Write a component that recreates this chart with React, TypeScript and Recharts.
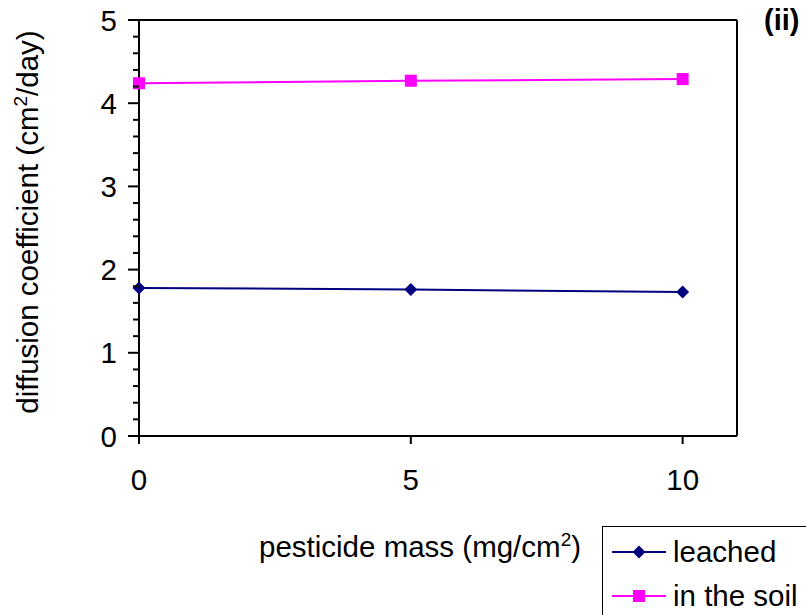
import { LineChart, Line, XAxis, YAxis, Legend, Label, ReferenceLine } from 'recharts'

const pesticideMass = [0, 5, 10]
const leached = [1.78, 1.76, 1.73]
const inSoil = [4.24, 4.27, 4.29]

const xTicks = [0, 5, 10]
// every 0.2 gets a tick mark, only whole numbers get a label
const yTicks = [
  0, 0.2, 0.4, 0.6, 0.8, 1, 1.2, 1.4, 1.6, 1.8, 2, 2.2, 2.4, 2.6, 2.8, 3, 3.2, 3.4, 3.6, 3.8, 4, 4.2, 4.4,
  4.6, 4.8, 5,
]

const data = pesticideMass.map((x, i) => ({ x, leached: leached[i], soil: inSoil[i] }))

const FONT = '"Liberation Sans", Arial, sans-serif'
const NAVY = '#000080'
const MAGENTA = '#ff00ff'
const FS = 29.5

const tickStyle = { fill: '#000', fontSize: FS, fontFamily: FONT }

function Diamond({ cx, cy }: any) {
  if (cx == null || cy == null) return null
  const r = 6.5
  return <path d={`M${cx},${cy - r}L${cx + r},${cy}L${cx},${cy + r}L${cx - r},${cy}Z`} fill={NAVY} />
}

function Square({ cx, cy }: any) {
  if (cx == null || cy == null) return null
  return <rect x={cx - 6} y={cy - 6} width={12} height={12} fill={MAGENTA} />
}

// x, y here sit on the axis line (tickSize and tickMargin are 0)
function YTick({ x, y, payload }: any) {
  const v = payload.value
  const major = Math.abs(v - Math.round(v)) < 1e-6
  return (
    <g>
      <line x1={x - (major ? 11 : 6)} x2={x} y1={y} y2={y} stroke="#000" strokeWidth={2} />
      {major && (
        <text x={x - 22} y={y} dy="0.36em" textAnchor="end" fontSize={FS} fontFamily={FONT} fill="#000">
          {v}
        </text>
      )}
    </g>
  )
}

function LegendBox() {
  const rows = [
    { name: 'leached', color: NAVY, marker: 'diamond' },
    { name: 'in the soil', color: MAGENTA, marker: 'square' },
  ]
  return (
    <div style={{ width: 220, height: 100, border: '1.5px solid #000', background: '#fff', boxSizing: 'border-box' }}>
      <svg width={220} height={100} style={{ display: 'block' }}>
        {rows.map((r, i) => {
          const y = 25 + i * 44
          return (
            <g key={r.name}>
              <line x1={9} x2={63} y1={y} y2={y} stroke={r.color} strokeWidth={2} />
              {r.marker === 'diamond' ? <Diamond cx={36} cy={y} /> : <Square cx={36} cy={y} />}
              <text x={70} y={y + 10} fontSize={FS} fontFamily={FONT} fill="#000">
                {r.name}
              </text>
            </g>
          )
        })}
      </svg>
    </div>
  )
}

export default function App() {
  return (
    <div style={{ position: 'absolute', left: 0, top: 0, width: 806, height: 615, overflow: 'hidden', background: '#fff' }}>
      <LineChart width={806} height={615} data={data} margin={{ top: 20, right: 69, bottom: 119, left: 79 }}>
        <YAxis
          type="number"
          domain={[0, 5]}
          ticks={yTicks}
          interval={0}
          width={60}
          tickSize={0}
          tickMargin={0}
          tick={<YTick />}
          tickLine={false}
          axisLine={{ stroke: '#000', strokeWidth: 2 }}
        >
          <Label
            content={() => (
              <text
                x={38}
                y={222}
                transform="rotate(-90, 38, 222)"
                textAnchor="middle"
                fontSize={FS}
                fontFamily={FONT}
                fill="#000"
              >
                diffusion coefficient (cm
                <tspan dy={-11} fontSize={19}>
                  2
                </tspan>
                <tspan dy={11}>/day)</tspan>
              </text>
            )}
          />
        </YAxis>
        <XAxis
          dataKey="x"
          type="number"
          domain={[0, 11]}
          ticks={xTicks}
          height={60}
          tickSize={8}
          tickMargin={25}
          tick={tickStyle}
          axisLine={{ stroke: '#000', strokeWidth: 2 }}
          tickLine={{ stroke: '#000', strokeWidth: 2 }}
        >
          <Label
            content={() => (
              <text x={259} y={557} fontSize={FS} fontFamily={FONT} fill="#000">
                pesticide mass (mg/cm
                <tspan dy={-11} fontSize={19}>
                  2
                </tspan>
                <tspan dy={11}>)</tspan>
              </text>
            )}
          />
        </XAxis>
        <ReferenceLine y={5} stroke="#000" strokeWidth={2} />
        <ReferenceLine x={11} stroke="#000" strokeWidth={2} />
        <Line
          dataKey="leached"
          stroke={NAVY}
          strokeWidth={2}
          dot={<Diamond />}
          activeDot={false}
          isAnimationActive={false}
        />
        <Line
          dataKey="soil"
          stroke={MAGENTA}
          strokeWidth={2}
          dot={<Square />}
          activeDot={false}
          isAnimationActive={false}
        />
        <Legend
          layout="vertical"
          align="center"
          verticalAlign="middle"
          content={() => <LegendBox />}
          wrapperStyle={{ left: 602, top: 526, width: 220, height: 100 }}
        />
      </LineChart>
      <div
        style={{
          position: 'absolute',
          left: 764,
          top: 6,
          fontFamily: FONT,
          fontSize: 29,
          fontWeight: 'bold',
          lineHeight: 1,
        }}
      >
        (ii)
      </div>
    </div>
  )
}
